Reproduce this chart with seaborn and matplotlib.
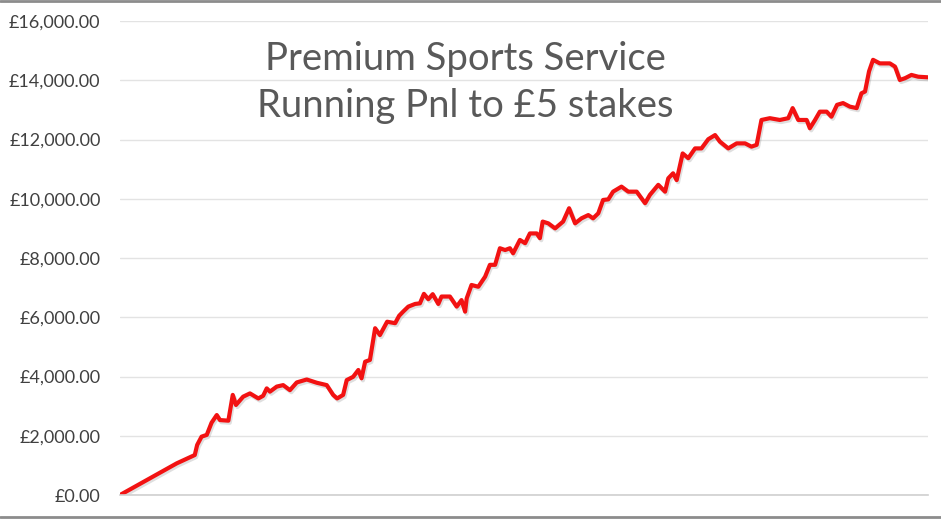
import numpy as np
import pandas as pd
import matplotlib
matplotlib.use("Agg")
import matplotlib.pyplot as plt
import matplotlib.patheffects as pe
from matplotlib.lines import Line2D
from matplotlib.ticker import FuncFormatter
import seaborn as sns

# Running P&L (bet number, cumulative pnl in £)
bet_no = [0, 142, 187, 193, 204, 217, 229, 242, 250, 271,
          282, 290, 308, 325, 346, 358, 367, 375, 392, 408,
          425, 442, 467, 492, 517, 533, 543, 558, 567, 583,
          596, 604, 613, 625, 638, 650, 668, 688, 698, 708,
          721, 738, 750, 760, 771, 782, 796, 804, 825, 842,
          854, 863, 867, 879, 896, 913, 925, 938, 950, 963,
          975, 983, 1000, 1013, 1025, 1042, 1050, 1057, 1071, 1088,
          1108, 1123, 1138, 1154, 1171, 1183, 1196, 1208, 1221, 1233,
          1254, 1271, 1292, 1313, 1325, 1346, 1363, 1371, 1383, 1392,
          1407, 1421, 1438, 1454, 1471, 1488, 1500, 1521, 1542, 1563,
          1579, 1592, 1604, 1625, 1650, 1671, 1682, 1696, 1717, 1725,
          1738, 1750, 1767, 1779, 1793, 1808, 1825, 1842, 1854, 1863,
          1873, 1883, 1900, 1925, 1938, 1950, 1963, 1979, 1996, 2020]
pnl = [0, 1070, 1350, 1690, 1970, 2030, 2440, 2700, 2530, 2510,
       3380, 3040, 3320, 3430, 3260, 3350, 3600, 3490, 3660, 3710,
       3540, 3800, 3900, 3790, 3710, 3380, 3260, 3380, 3880, 3990,
       4220, 3940, 4500, 4560, 5630, 5400, 5850, 5800, 6050, 6190,
       6360, 6450, 6470, 6790, 6610, 6780, 6450, 6700, 6700, 6360,
       6580, 6190, 6640, 7090, 7030, 7370, 7770, 7770, 8330, 8270,
       8330, 8160, 8610, 8500, 8830, 8830, 8670, 9230, 9170, 9000,
       9230, 9680, 9170, 9340, 9450, 9340, 9510, 9960, 9980, 10240,
       10410, 10240, 10240, 9850, 10130, 10470, 10240, 10690, 10860, 10630,
       11530, 11370, 11700, 11700, 12010, 12150, 11930, 11700, 11870, 11870,
       11760, 11820, 12660, 12720, 12660, 12720, 13060, 12660, 12660, 12380,
       12660, 12940, 12940, 12770, 13170, 13230, 13110, 13060, 13560, 13620,
       14300, 14690, 14570, 14570, 14460, 14010, 14070, 14180, 14120, 14100]
title_lines = ["Premium Sports Service", "Running Pnl to £5 stakes"]
y_ticks = [0, 2000, 4000, 6000, 8000, 10000, 12000, 14000, 16000]

df = pd.DataFrame({"bet": bet_no, "pnl": pnl})

sns.set_theme(style="white")
plt.rcParams["font.family"] = ["Lato", "DejaVu Sans"]

fig = plt.figure(figsize=(9.41, 5.19), dpi=100)
ax = fig.add_axes([0.1275, 0.0462, 0.8585, 0.9133])

sns.lineplot(data=df, x="bet", y="pnl", ax=ax, color="#f21212", linewidth=3.0,
             path_effects=[pe.SimpleLineShadow(offset=(1, -1.5), alpha=0.25, shadow_color="gray"), pe.Normal()])

ax.set_xlim(df["bet"].min(), df["bet"].max())
ax.set_ylim(0, 16000)
ax.set_yticks(y_ticks)
ax.yaxis.set_major_formatter(FuncFormatter(lambda v, p: f"£{v:,.2f}"))
ax.set_xticks([])
ax.set_xlabel("")
ax.set_ylabel("")
ax.grid(axis="y", color="#e3e3e3", linewidth=1)
ax.set_axisbelow(True)
for side in ["top", "right", "left"]:
    ax.spines[side].set_visible(False)
ax.spines["bottom"].set_color("#cfcfcf")
ax.spines["bottom"].set_linewidth(1.2)
ax.tick_params(axis="y", length=0, pad=14, labelsize=13, labelcolor="#404040")

ax.text(0.428, 0.8966, title_lines[0], transform=ax.transAxes, ha="center", va="baseline",
        fontsize=27.5, color="#595959")
ax.text(0.428, 0.7975, title_lines[1], transform=ax.transAxes, ha="center", va="baseline",
        fontsize=27.5, color="#595959")

# frame lines at top and bottom of the image
fig.add_artist(Line2D([0, 1], [0.998, 0.998], transform=fig.transFigure, color="#8c8c8c", linewidth=2))
fig.add_artist(Line2D([0, 1], [0.004, 0.004], transform=fig.transFigure, color="#8c8c8c", linewidth=2))

fig.savefig("out.png", dpi=100)
